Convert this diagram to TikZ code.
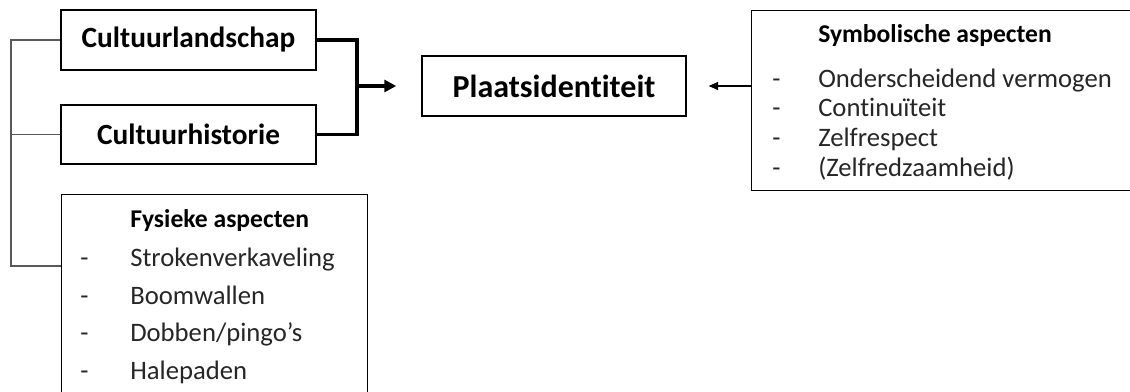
\documentclass[tikz,border=0pt]{standalone}
\usepackage{fontspec}
\setmainfont{Carlito}[Ligatures={NoCommon}]
\usetikzlibrary{arrows.meta,positioning}

\begin{document}
\begin{tikzpicture}[x=0.75pt,y=-0.75pt]
        \tikzstyle{kader}=[rectangle, draw=black, line width=1.1pt, inner sep=0pt]
        \tikzstyle{kop}=[font=\bfseries\fontsize{22}{26}\selectfont]
        \tikzstyle{subkop}=[anchor=base west, inner sep=0pt, font=\bfseries\fontsize{19.2}{23}\selectfont]
        \tikzstyle{lijst}=[anchor=base west, inner sep=0pt, font=\fontsize{20}{24}\selectfont, text=black!85]
        \tikzstyle{tak}=[draw=black!65, line width=0.9pt]
        \tikzstyle{samen}=[line width=2.3pt]
        \tikzstyle{dik}=[-{Triangle[length=9pt,width=9pt]}, line width=2.3pt, shorten >=18.75pt]
        \tikzstyle{dun}=[-{Triangle[length=7pt,width=6pt]}, line width=0.9pt, shorten >=16.5pt]
        \useasboundingbox (0,0) rectangle (1130,392);
        \clip (0,0) rectangle (1130,392);
        % boxes
        \node[kader, minimum width=191.25pt, minimum height=45pt] (land) at (188.5,40) {};
        \node[kop] (landtxt) at (188.5,40) {Cultuurlandschap};
        \node[kader, minimum width=191.25pt, minimum height=44.25pt] (hist) at (188.5,134.5) {};
        \node[kop] (histtxt) at (188.5,134.5) {Cultuurhistorie};
        \node[kader, minimum width=198pt, minimum height=45pt] (plaats) at (554,86) {};
        \node[kop, font=\bfseries\fontsize{24}{28}\selectfont] (plaatstxt) at (554,86) {Plaatsidentiteit};
        % deze twee lopen over de rand van het beeld
        \node[kader, anchor=north west, minimum width=288pt, minimum height=135pt] (symb) at (751,10) {};
        \node[kader, anchor=north west, minimum width=229.5pt, minimum height=153pt] (fys) at (61,194) {};
        % lijsten
        \node[subkop] (symbkop) at (818,43) {Symbolische aspecten};
        \foreach \t [count=\i] in {Onderscheidend vermogen, Continuïteit, Zelfrespect, {(Zelfredzaamheid)}} {
            \node[lijst] (symbstr\i) at (772,57.5+29.7*\i) {-};
            \node[lijst] (symb\i) at (818,57.5+29.7*\i) {\t};
        }
        \node[subkop] (fyskop) at (130,227) {Fysieke aspecten};
        \foreach \t [count=\i] in {Strokenverkaveling, Boomwallen, Dobben/pingo’s, Halepaden} {
            \node[lijst] (fysstr\i) at (80,229+37.5*\i) {-};
            \node[lijst] (fys\i) at (130,229+37.5*\i) {\t};
        }
        % verbindingen
        \coordinate (links) at (11,0);
        \coordinate (fysin) at (61,266);
        \coordinate (knoop) at (357,86);
        \draw[tak] (land.west) -| (fysin -| links) -- (fysin);
        \draw[tak] (hist.west) -- (hist.west -| links);
        \draw[samen] (land.east) -| (knoop) |- (hist.east);
        \draw[dik] (knoop) -- (plaats.west);
        \draw[dun] (symb.west |- plaats.east) -- (plaats.east);
      \end{tikzpicture}
\end{document}
